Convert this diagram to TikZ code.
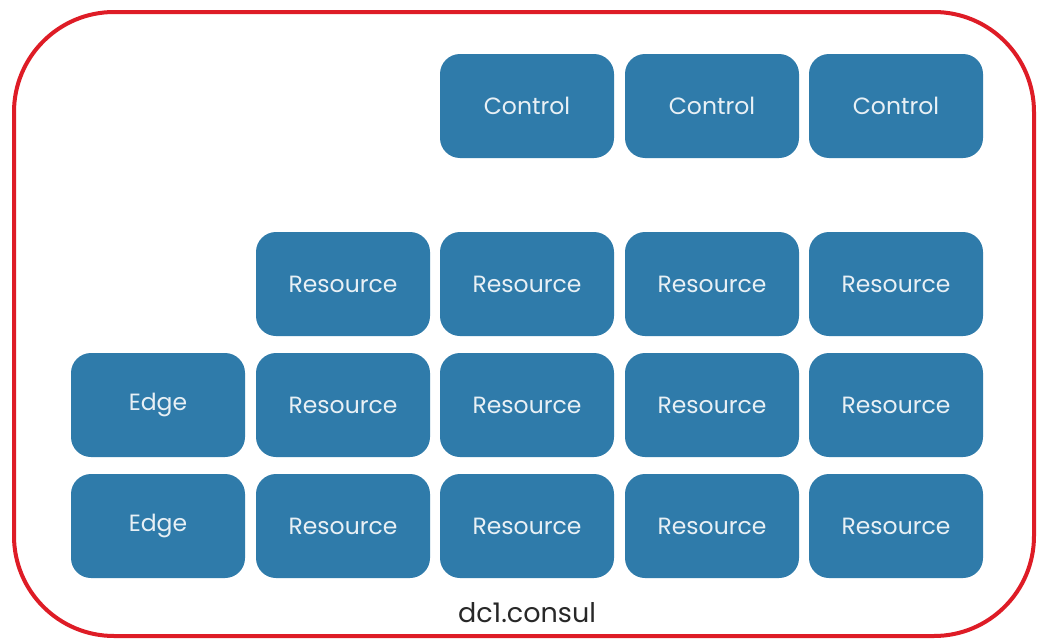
\documentclass[tikz,border=0pt]{standalone}
\usepackage{fontspec}
\setmainfont{Poppins}
\definecolor{boxblue}{RGB}{47,123,170}
\definecolor{boxtext}{RGB}{232,240,245}
\definecolor{borderred}{RGB}{222,28,38}
\definecolor{labelgray}{RGB}{40,40,40}
\tikzset{
  tile/.style={rectangle, rounded corners=20pt, fill=boxblue, draw=none,
    minimum width=174pt, minimum height=104pt, inner sep=0pt,
    text=boxtext, font=\fontsize{23.5}{26}\selectfont},
  outer/.style={draw=borderred, line width=4pt, rounded corners=100pt},
  dclabel/.style={text=labelgray, font=\fontsize{27}{30}\selectfont, inner sep=0pt}
}
\begin{document}
\begin{tikzpicture}[x=1pt,y=-1pt]
\useasboundingbox (0,0) rectangle (1037,640);
\fill[white] (0,0) rectangle (1037,640);
\draw[outer] (14,12) rectangle (1034,636);
% Control row
\node[tile] (c1) at (527,106) {Control};
\node[tile] (c2) at (712,106) {Control};
\node[tile] (c3) at (896,106) {Control};
% Resource row 1
\node[tile] (r11) at (343,284) {Resource};
\node[tile] (r12) at (527,284) {Resource};
\node[tile] (r13) at (712,284) {Resource};
\node[tile] (r14) at (896,284) {Resource};
% Row 2
\node[tile] (e1) at (158,405) {Edge};
\node[tile] (r21) at (343,405) {Resource};
\node[tile] (r22) at (527,405) {Resource};
\node[tile] (r23) at (712,405) {Resource};
\node[tile] (r24) at (896,405) {Resource};
% Row 3
\node[tile] (e2) at (158,526) {Edge};
\node[tile] (r31) at (343,526) {Resource};
\node[tile] (r32) at (527,526) {Resource};
\node[tile] (r33) at (712,526) {Resource};
\node[tile] (r34) at (896,526) {Resource};
\node[dclabel] (dc) at (527,613) {dc1.consul};
\end{tikzpicture}
\end{document}
